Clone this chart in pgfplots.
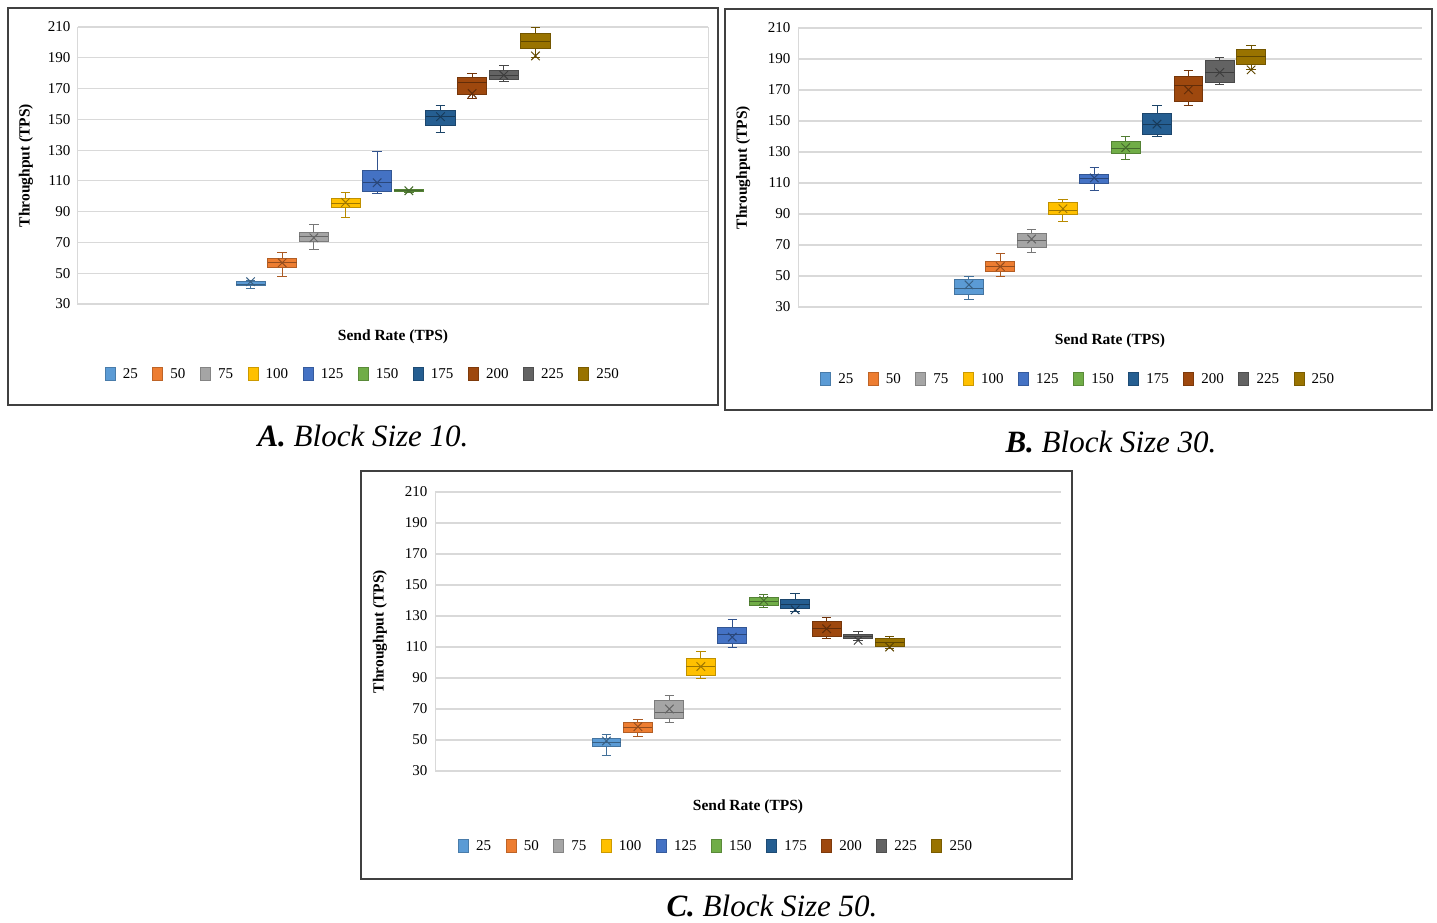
\documentclass[border=0pt]{standalone}
\usepackage{fontspec}
\setmainfont{Liberation Serif}
\usepackage{pgfplots}
\pgfplotsset{compat=1.18}
\definecolor{c1}{HTML}{5B9BD5}
\definecolor{c2}{HTML}{ED7D31}
\definecolor{c3}{HTML}{A5A5A5}
\definecolor{c4}{HTML}{FFC000}
\definecolor{c5}{HTML}{4472C4}
\definecolor{c6}{HTML}{70AD47}
\definecolor{c7}{HTML}{255E91}
\definecolor{c8}{HTML}{9E480E}
\definecolor{c9}{HTML}{636363}
\definecolor{c10}{HTML}{997300}
% \bx{position}{colour}{lower whisker}{Q1}{median}{Q3}{upper whisker}{mean}
\newcommand{\bx}[8]{%
  \pgfmathsetmacro\bL{#1-0.46}\pgfmathsetmacro\bR{#1+0.46}%
  \pgfmathsetmacro\wL{#1-0.15}\pgfmathsetmacro\wR{#1+0.15}%
  \edef\doit{%
    \noexpand\addplot[forget plot, draw=#2!72!black, line width=1pt, unbounded coords=jump]
      coordinates {(\wL,#3) (\wR,#3) (nan,nan) (#1,#3) (#1,#7) (nan,nan) (\wL,#7) (\wR,#7)};
    \noexpand\addplot[forget plot, draw=#2!75!black, fill=#2, line width=0.9pt]
      coordinates {(\bL,#4) (\bR,#4) (\bR,#6) (\bL,#6)} -- cycle;
    \noexpand\addplot[forget plot, draw=#2!62!black, line width=0.9pt]
      coordinates {(\bL,#5) (\bR,#5)};
    \noexpand\addplot[forget plot, draw=#2!62!black, only marks, mark=x, mark size=6pt, line width=1pt]
      coordinates {(#1,#8)};
  }\doit}
\newcommand{\leg}{%
  \addlegendimage{sq, fill=c1, draw=c1!80!black}\addlegendentry{25}
  \addlegendimage{sq, fill=c2, draw=c2!80!black}\addlegendentry{50}
  \addlegendimage{sq, fill=c3, draw=c3!80!black}\addlegendentry{75}
  \addlegendimage{sq, fill=c4, draw=c4!80!black}\addlegendentry{100}
  \addlegendimage{sq, fill=c5, draw=c5!80!black}\addlegendentry{125}
  \addlegendimage{sq, fill=c6, draw=c6!80!black}\addlegendentry{150}
  \addlegendimage{sq, fill=c7, draw=c7!80!black}\addlegendentry{175}
  \addlegendimage{sq, fill=c8, draw=c8!80!black}\addlegendentry{200}
  \addlegendimage{sq, fill=c9, draw=c9!80!black}\addlegendentry{225}
  \addlegendimage{sq, fill=c10, draw=c10!80!black}\addlegendentry{250}}
\pgfplotsset{
  sq/.style={legend image code/.code={\draw[##1, line width=0.6pt] (0pt,-6.5pt) rectangle (10pt,6.5pt);}},
  panel/.style={scale only axis, xmin=-4.45, xmax=15.45, ymin=30, ymax=210,
    ytick={30,50,...,210}, xtick=\empty, ymajorgrids,
    grid style={black!15, line width=1.1pt}, major tick length=0pt,
    axis line style={black!15, line width=1pt}, clip=false,
    tick label style={font=\fontsize{15}{17}\selectfont},
    /pgf/number format/assume math mode=true, yticklabel style={xshift=-4pt},
    label style={font=\bfseries\fontsize{15.5}{17}\selectfont},
    xlabel={Send Rate (TPS)}, ylabel={Throughput (TPS)},
    legend columns=10,
    legend style={draw=none, fill=none, font=\fontsize{15}{17}\selectfont, anchor=center,
      /tikz/every odd column/.append style={column sep=5.5pt},
      /tikz/every even column/.append style={column sep=12.5pt}},
    legend cell align=left}
}
\begin{document}
\begin{tikzpicture}
\useasboundingbox (0pt,0pt) rectangle (1437pt,-922pt);
% ---------- A ----------
\begin{axis}[panel, at={(78pt,-304pt)}, anchor=south west, width=630pt, height=277pt,
  xlabel style={at={(axis description cs:0.5,-0.119)}, anchor=center},
  ylabel style={at={(axis description cs:-0.0825,0.5)}, anchor=center},
  legend style={at={(0.452,-0.253)}}]
\leg
\bx{1}{c1}{40}{42}{43}{44.5}{45.5}{44.5}
\bx{2}{c2}{48}{54}{57}{59.8}{63.5}{56.8}
\bx{3}{c3}{65.4}{70.4}{73.6}{76.6}{81.8}{73}
\bx{4}{c4}{86.1}{92.6}{95.6}{98.4}{102.5}{96}
\bx{5}{c5}{101.9}{103.4}{109}{117}{129}{108.8}
\bx{6}{c6}{102.7}{102.9}{103.5}{104.2}{104.3}{103.6}
\bx{7}{c7}{141.4}{146.1}{152}{155.8}{158.9}{151.7}
\bx{8}{c8}{163.8}{166.2}{173.7}{177.2}{179.8}{166.8}
\bx{9}{c9}{174.8}{175.7}{178.7}{181.7}{184.8}{178.7}
\bx{10}{c10}{190}{196.2}{200.7}{205.7}{210}{191.2}
\end{axis}
% ---------- B ----------
\begin{axis}[panel, at={(798pt,-307pt)}, anchor=south west, width=624pt, height=279pt,
  axis x line*=bottom, axis y line*=left,
  xlabel style={at={(axis description cs:0.5,-0.122)}, anchor=center},
  ylabel style={at={(axis description cs:-0.088,0.5)}, anchor=center},
  legend style={at={(0.449,-0.258)}}]
\leg
\bx{1}{c1}{35.1}{38.1}{42}{47.6}{49.5}{44.3}
\bx{2}{c2}{50}{52.9}{56}{59.1}{64.7}{56.1}
\bx{3}{c3}{65.3}{68.6}{73}{77.6}{79.7}{73.9}
\bx{4}{c4}{85.3}{89.4}{92.6}{97.7}{99.6}{93.4}
\bx{5}{c5}{105.4}{109.9}{112.9}{115.5}{119.8}{113.3}
\bx{6}{c6}{125.4}{129}{132.6}{136.5}{139.7}{132.8}
\bx{7}{c7}{140.1}{141.6}{147.6}{154.7}{159.9}{148}
\bx{8}{c8}{159.9}{162.9}{172.9}{178.7}{182.8}{170.1}
\bx{9}{c9}{173.4}{175.1}{181.3}{188.8}{190.7}{181.3}
\bx{10}{c10}{183}{186.4}{191.6}{195.9}{198.4}{183}
\end{axis}
% ---------- C ----------
\begin{axis}[panel, at={(435pt,-771pt)}, anchor=south west, width=626pt, height=279pt,
  axis x line*=bottom, axis y line*=left,
  xlabel style={at={(axis description cs:0.5,-0.129)}, anchor=center},
  ylabel style={at={(axis description cs:-0.088,0.5)}, anchor=center},
  legend style={at={(0.449,-0.269)}}]
\leg
\bx{1}{c1}{40.2}{45.8}{48.6}{51.1}{53.3}{49.4}
\bx{2}{c2}{52.2}{55.2}{58.4}{61.6}{63.3}{58.6}
\bx{3}{c3}{61.2}{64.2}{68}{75.5}{78.8}{70}
\bx{4}{c4}{89.9}{91.6}{97.2}{102.5}{107}{97.4}
\bx{5}{c5}{109.6}{112.6}{117.9}{122.6}{127.8}{116.4}
\bx{6}{c6}{135.3}{136.8}{139.6}{141.9}{143.8}{140}
\bx{7}{c7}{133}{134.9}{137.4}{140.8}{144.3}{134}
\bx{8}{c8}{115.2}{116.9}{121.8}{126.7}{128.9}{121.8}
\bx{9}{c9}{114}{115.4}{116.9}{118.4}{120.1}{114.3}
\bx{10}{c10}{109}{110.2}{112.8}{115.6}{117.1}{110}
\end{axis}
% frames and captions
\draw[line width=1.3pt, black!75] (8pt,-8pt) rectangle (718pt,-405pt);
\draw[line width=1.3pt, black!75] (725pt,-9pt) rectangle (1432pt,-410pt);
\draw[line width=1.3pt, black!75] (361pt,-471pt) rectangle (1072pt,-879pt);
\node[font=\itshape\fontsize{31}{34}\selectfont] at (363pt,-436pt) {\textbf{A.} Block Size 10.};
\node[font=\itshape\fontsize{31}{34}\selectfont] at (1111pt,-442pt) {\textbf{B.} Block Size 30.};
\node[font=\itshape\fontsize{31}{34}\selectfont] at (772pt,-906pt) {\textbf{C.} Block Size 50.};
\end{tikzpicture}
\end{document}
